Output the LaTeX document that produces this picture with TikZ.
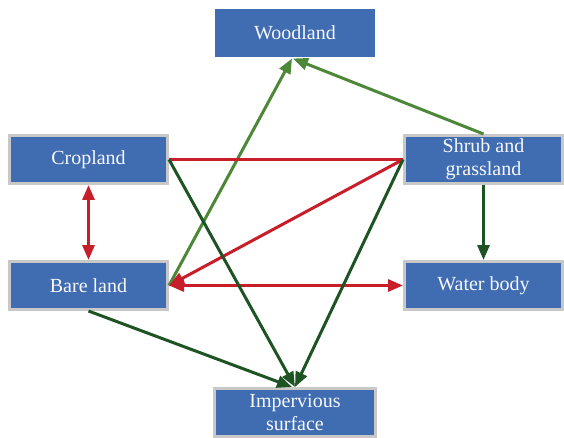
\documentclass[tikz,border=0pt]{standalone}
\usepackage{fontspec}
\setmainfont{Liberation Serif}
\usetikzlibrary{arrows.meta}
\definecolor{boxblue}{RGB}{64,108,178}
\definecolor{boxgray}{RGB}{200,200,200}
\definecolor{linkred}{RGB}{200,30,42}
\definecolor{darkgreen}{RGB}{30,84,36}
\definecolor{lightgreen}{RGB}{76,136,56}
\tikzset{
  landbox/.style={rectangle, fill=boxblue, draw=boxgray, line width=3pt,
    minimum width=158pt, minimum height=48pt, inner sep=2pt,
    text=white!95!boxblue, font=\fontsize{20}{23}\selectfont, align=center},
  tip/.style={Triangle[length=15pt,width=12pt]},
  redlink/.style={draw=linkred, line width=3pt},
  redarrow/.style={redlink, -{Triangle[length=15pt,width=12pt]}},
  reddouble/.style={redlink, {Triangle[length=15pt,width=12pt]}-{Triangle[length=15pt,width=12pt]}},
  dgarrow/.style={draw=darkgreen, line width=3pt, -{Triangle[length=15pt,width=12pt]}},
  lgarrow/.style={draw=lightgreen, line width=3pt, -{Triangle[length=15pt,width=12pt]}},
}
\begin{document}
\begin{tikzpicture}[x=1pt,y=-1pt]
\useasboundingbox (0,0) rectangle (564,438);
\node[landbox, draw=none, minimum width=160pt] (wood) at (295,33) {Woodland};
\node[landbox] (crop) at (88.5,159.5) {Cropland};
\node[landbox] (shrub) at (483.5,159.5) {Shrub and\\grassland};
\node[landbox] (bare) at (88.5,285.5) {Bare land};
\node[landbox] (water) at (483.5,285.5) {Water body};
\node[landbox, minimum width=161pt] (imp) at (295,412.5) {Impervious\\surface};

\draw[lgarrow] (shrub.north) -- ([xshift=-2pt]wood.south);
\draw[lgarrow] (bare.east) -- ([xshift=-3pt]wood.south);
\draw[reddouble] (crop.south) -- (bare.north);
\draw[redlink] (crop.east) -- (shrub.west);
\draw[redarrow] (shrub.west) -- (bare.east);
\draw[reddouble] (bare.east) -- (water.west);
\draw[dgarrow] (crop.east) -- (imp.north);
\draw[dgarrow] (shrub.west) -- (imp.north);
\draw[dgarrow] (bare.south) -- ([xshift=-3pt]imp.north);
\draw[dgarrow] (shrub.south) -- (water.north);
\end{tikzpicture}
\end{document}
